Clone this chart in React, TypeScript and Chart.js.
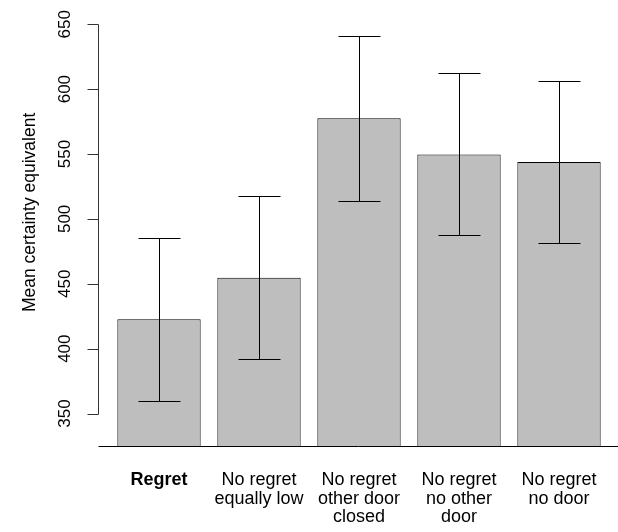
import React, { useEffect, useRef } from "react";
import { Chart, registerables } from "chart.js";

Chart.register(...registerables);

const categories: string[][] = [
  ["Regret"],
  ["No regret", "equally low"],
  ["No regret", "other door", "closed"],
  ["No regret", "no other", "door"],
  ["No regret", "no door"],
];
const meanValues = [422.6, 454.7, 577.5, 549.7, 543.8];
const lowerValues = [359.9, 392.0, 513.8, 487.3, 481.4];
const upperValues = [485.3, 517.6, 641.2, 612.7, 606.5];
const yTickValues = [350, 400, 450, 500, 550, 600, 650];
const yTitle = "Mean certainty equivalent";

const FONT = "'Liberation Sans', Arial, Helvetica, sans-serif";

const rStylePlugin = {
  id: "rStyle",
  afterDatasetsDraw(chart: any) {
    const ctx = chart.ctx;
    const y = chart.scales.y;
    const area = chart.chartArea;
    const meta = chart.getDatasetMeta(0);
    ctx.save();
    ctx.strokeStyle = "#000";
    ctx.lineWidth = 1;
    // error bars
    meta.data.forEach((bar: any, i: number) => {
      const x = Math.round(bar.x) + 0.5;
      const yl = Math.round(y.getPixelForValue(lowerValues[i])) + 0.5;
      const yu = Math.round(y.getPixelForValue(upperValues[i])) + 0.5;
      ctx.beginPath();
      ctx.moveTo(x, yl);
      ctx.lineTo(x, yu);
      ctx.moveTo(x - 21, yl);
      ctx.lineTo(x + 21, yl);
      ctx.moveTo(x - 21, yu);
      ctx.lineTo(x + 21, yu);
      ctx.stroke();
    });
    // bottom line
    const axisX = area.left - 11 + 0.5;
    const by = Math.round(area.bottom) + 0.5;
    ctx.beginPath();
    ctx.moveTo(axisX, by);
    ctx.lineTo(chart.width, by);
    ctx.stroke();
    // y axis line and ticks
    const y0 = Math.round(y.getPixelForValue(yTickValues[0])) + 0.5;
    const y1 = Math.round(y.getPixelForValue(yTickValues[yTickValues.length - 1])) + 0.5;
    ctx.strokeStyle = "#333";
    ctx.beginPath();
    ctx.moveTo(axisX, y0);
    ctx.lineTo(axisX, y1);
    yTickValues.forEach((v) => {
      const ty = Math.round(y.getPixelForValue(v)) + 0.5;
      ctx.moveTo(axisX, ty);
      ctx.lineTo(axisX - 11, ty);
    });
    ctx.stroke();
    // tick labels (rotated)
    ctx.fillStyle = "#000";
    ctx.font = `17px ${FONT}`;
    ctx.textAlign = "center";
    ctx.textBaseline = "middle";
    yTickValues.forEach((v) => {
      const ty = y.getPixelForValue(v);
      ctx.save();
      ctx.translate(65, ty);
      ctx.rotate(-Math.PI / 2);
      ctx.fillText(String(v), 0, 0);
      ctx.restore();
    });
    // axis title
    ctx.font = `17.5px ${FONT}`;
    ctx.save();
    ctx.translate(30, y.getPixelForValue(505));
    ctx.rotate(-Math.PI / 2);
    ctx.fillText(yTitle, 0, 0);
    ctx.restore();
    ctx.restore();
  },
};

export default function App() {
  const ref = useRef<HTMLCanvasElement | null>(null);
  useEffect(() => {
    if (!ref.current) return;
    const chart = new Chart(ref.current, {
      type: "bar",
      data: {
        labels: categories,
        datasets: [
          {
            data: meanValues,
            backgroundColor: "#BEBEBE",
            borderColor: "#000",
            borderWidth: 1,
            borderSkipped: "bottom",
            categoryPercentage: 1,
            barPercentage: 0.8333,
          },
        ],
      },
      options: {
        responsive: false,
        animation: false,
        layout: { padding: { top: 8, right: 9, left: 0, bottom: 0 } },
        plugins: { legend: { display: false }, tooltip: { enabled: false } },
        scales: {
          x: {
            grid: { display: false, drawTicks: false },
            border: { display: false },
            ticks: {
              padding: 25,
              color: "#000",
              maxRotation: 0,
              autoSkip: false,
              font: (c: any) => ({
                family: FONT,
                size: 18,
                lineHeight: 1.02,
                weight: c.index === 0 ? "bold" : "normal",
              }),
            },
            afterFit: (s: any) => {
              s.height = 86;
              s.paddingLeft = 0;
              s.paddingRight = 0;
            },
          },
          y: {
            min: 325,
            max: 662.5,
            grid: { display: false, drawTicks: false },
            border: { display: false },
            ticks: { display: false },
            afterFit: (s: any) => {
              s.width = 109;
              s.paddingTop = 0;
              s.paddingBottom = 0;
            },
          },
        },
      },
      plugins: [rStylePlugin],
    });
    return () => chart.destroy();
  }, []);
  return (
    <canvas
      ref={ref}
      width={618}
      height={532}
      style={{ position: "absolute", left: 0, top: 0, display: "block" }}
    />
  );
}
